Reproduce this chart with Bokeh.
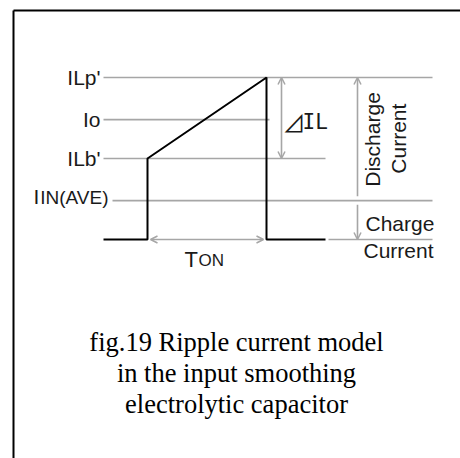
from bokeh.plotting import figure
from bokeh.models import Range1d, Arrow, OpenHead
from bokeh.core.properties import value
from bokeh.embed import file_html
from bokeh.resources import INLINE
import math

# ---- data (time in arbitrary units, current in relative units) ----
level_names = ["ILp'", "Io", "ILb'"]
level_values = [4.0, 2.96, 2.0]
level_line_start = [-4.4, -4.4, -4.4]
level_line_end = [28.5, 12.2, 17.8]

iin_main = "I"
iin_sub = "IN(AVE)"
iin_value = 0.96
iin_line = [-3.5, 28.5]

wave_t = [-4.4, 0.0, 0.0, 11.9, 11.9, 17.8]
wave_i = [0.0, 0.0, 2.0, 4.0, 0.0, 0.0]
base_gray_t = [18.1, 28.5]

ton_span = [0.3, 11.6]
dil_t = 13.4
dis_t = 21.0
dis_range = [1.07, 4.0]
chg_range = [0.86, 0.0]

caption = ["fig.19 Ripple current model",
           "in the input smoothing",
           "electrolytic capacitor"]
caption_y = [-2.52, -3.29, -4.06]

GRAY = "#a6a6a6"
TXT = "#1a1a1a"
SANS = value("Liberation Sans")

p = figure(width=460, height=458,
           x_range=Range1d(-14.7, 31.3), y_range=Range1d(-5.4074, 5.9012),
           output_backend="svg", toolbar_location=None, min_border=0,
           x_axis_location=None, y_axis_location=None)
p.grid.visible = False
p.outline_line_color = None
p.background_fill_color = "white"
p.border_fill_color = "white"

# border (top and left)
p.line([-13.4, 31.3], [5.654, 5.654], line_color="black", line_width=2)
p.line([-13.4, -13.4], [5.654, -5.41], line_color="black", line_width=2)

# gray level lines
xs = [[a, b] for a, b in zip(level_line_start, level_line_end)] + [iin_line, base_gray_t]
ys = [[v, v] for v in level_values] + [[iin_value, iin_value], [0, 0]]
p.multi_line(xs, ys, line_color=GRAY, line_width=1.6)

# waveform
p.line(wave_t, wave_i, line_color="black", line_width=2)

# labels
p.text(x=[-4.7] * 3, y=level_values, text=level_names, text_align="right",
       text_baseline="middle", text_font=SANS, text_font_size="21px", text_color=TXT)
p.text(x=[-11.4], y=[iin_value], text=[iin_main], text_align="left", y_offset=-4,
       text_baseline="middle", text_font=SANS, text_font_size="21px", text_color=TXT)
p.text(x=[-3.9], y=[iin_value], text=[iin_sub], text_align="right", y_offset=-3,
       text_baseline="middle", text_font=SANS, text_font_size="19px", text_color=TXT)

# arrows
def head():
    return OpenHead(size=7, line_color=GRAY, line_width=1.5)

p.add_layout(Arrow(start=head(), end=head(), x_start=ton_span[0], y_start=0,
                   x_end=ton_span[1], y_end=0, line_color=GRAY, line_width=1.6))
p.add_layout(Arrow(start=head(), end=head(), x_start=dil_t, y_start=level_values[0],
                   x_end=dil_t, y_end=level_values[2], line_color=GRAY, line_width=1.6))
p.add_layout(Arrow(start=None, end=head(), x_start=dis_t, y_start=dis_range[0],
                   x_end=dis_t, y_end=dis_range[1], line_color=GRAY, line_width=1.6))
p.add_layout(Arrow(start=None, end=head(), x_start=dis_t, y_start=chg_range[0],
                   x_end=dis_t, y_end=chg_range[1], line_color=GRAY, line_width=1.6))

# TON
p.text(x=[3.7], y=[-0.485], text=["T"], text_align="left", text_baseline="middle",
       text_font=SANS, text_font_size="22px", text_color=TXT)
p.text(x=[5.1], y=[-0.52], text=["ON"], text_align="left", text_baseline="middle",
       text_font=SANS, text_font_size="17px", text_color=TXT)

# delta IL
p.text(x=[13.5], y=[2.89], text=["⊿"], text_align="left", text_baseline="middle",
       text_font=value("Noto Sans CJK JP"), text_font_size="23px", text_color=TXT)
p.text(x=[15.5], y=[2.89], text=["IL"], text_align="left", text_baseline="middle",
       text_font=value("DejaVu Sans Mono"), text_font_size="21px", text_color=TXT)

# Discharge Current
p.text(x=[22.5, 25.1], y=[2.47, 2.49], text=["Discharge", "Current"], angle=math.pi / 2,
       text_align="center", text_baseline="middle", text_font=SANS,
       text_font_size="21px", text_color=TXT)
# Charge Current
p.text(x=[21.8, 21.6], y=[0.395, -0.27], text=["Charge", "Current"], text_align="left",
       text_baseline="middle", text_font=SANS, text_font_size="21px", text_color=TXT)

# caption
p.text(x=[8.9] * 3, y=caption_y, text=caption, text_align="center",
       text_baseline="middle", text_font=value("Liberation Serif"),
       text_font_size="26.5px", text_color="black")

open("out.html", "w").write(file_html(p, INLINE))
